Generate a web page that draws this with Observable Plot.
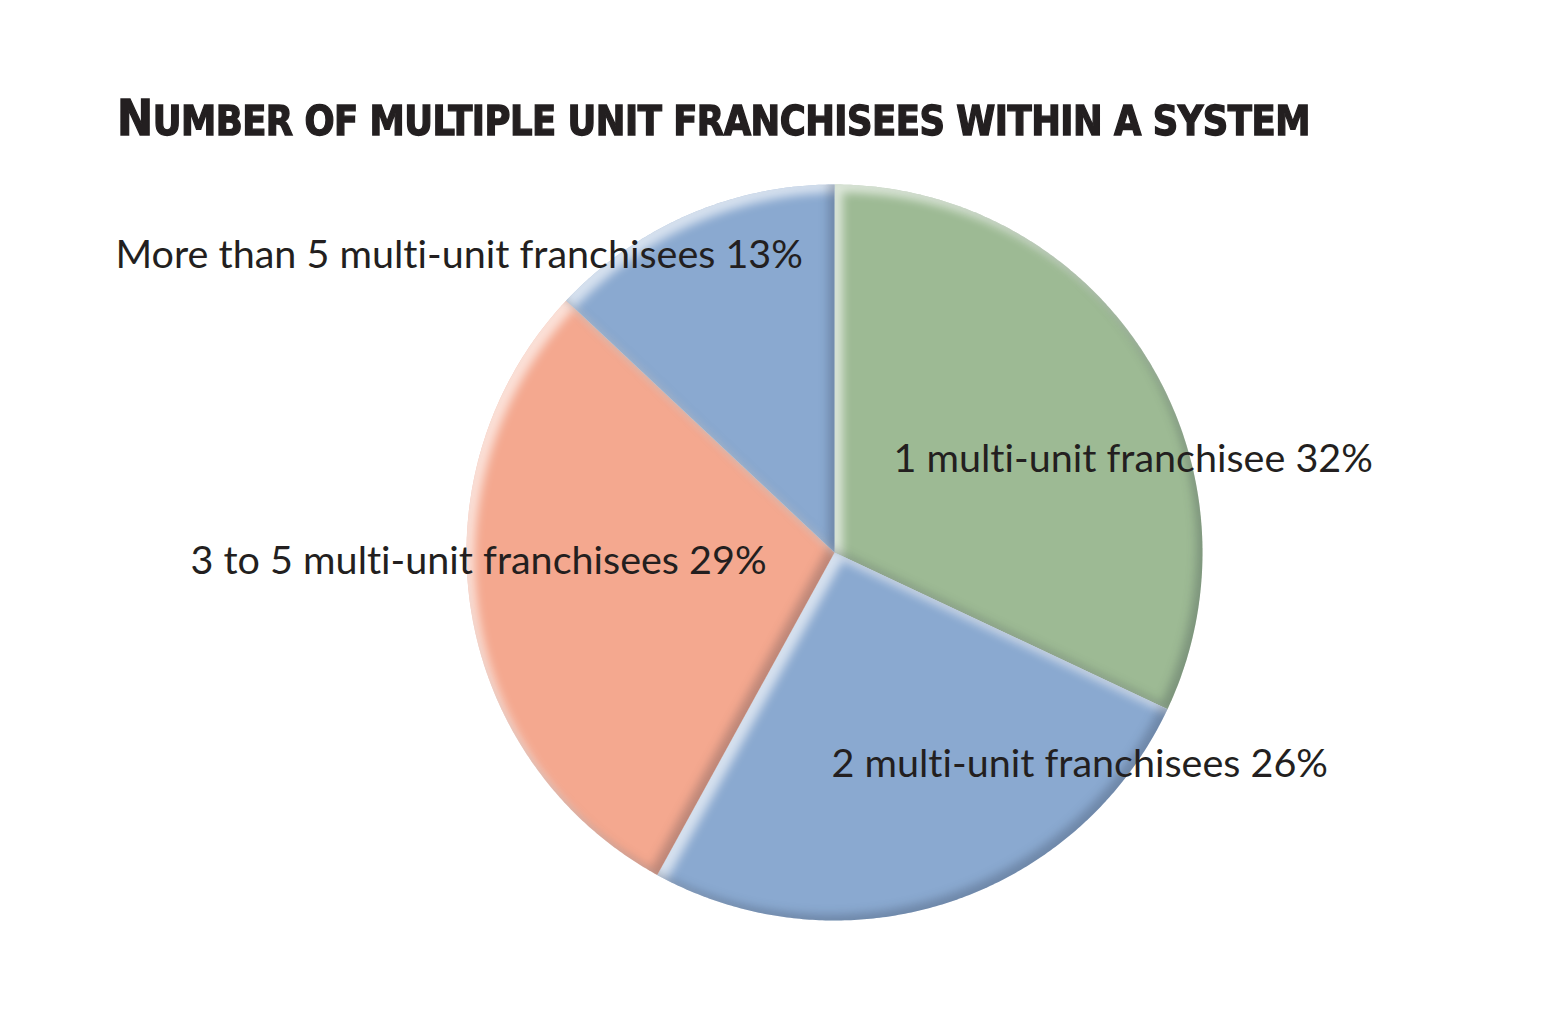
<!DOCTYPE html>
<html>
<head>
<meta charset="utf-8">
<script src="https://cdn.jsdelivr.net/npm/d3@7"></script>
<script src="https://cdn.jsdelivr.net/npm/@observablehq/plot@0.6"></script>
<style>
  html, body { margin: 0; padding: 0; background: #fff; }
  #wrap { width: 1542px; height: 1036px; position: relative; overflow: hidden; }
  #title { position: relative; height: 165px; }
  #ttext {
    position: absolute; left: 117px; top: 93px;
    font-family: "DejaVu Sans Condensed", "DejaVu Sans", sans-serif;
    font-weight: bold;
    font-size: 50px; line-height: 50px; color: #231f20;
    -webkit-text-stroke: 1.3px #231f20;
    white-space: nowrap; transform-origin: 0 0; display: inline-block;
    letter-spacing: -0.5px;
  }
  #ttext .sc { font-size: 41px; text-transform: uppercase; }
  svg { display: block; }
  svg text { font-variant-ligatures: none; font-feature-settings: "liga" 0; }
</style>
</head>
<body>
<div id="wrap">
  <div id="title"><span id="ttext">N<span class="sc">umber of multiple unit franchisees within a system</span></span></div>
  <div id="chart"></div>
</div>
<script>
// ---- data ----
const categories = [
  "1 multi-unit franchisee",
  "2 multi-unit franchisees",
  "3 to 5 multi-unit franchisees",
  "More than 5 multi-unit franchisees"
];
const shares = [32, 26, 29, 13];
const sliceColors = ["#9dba94", "#8aa9d0", "#f4a88f", "#8aa9d0"];

// ---- layout (pixels) ----
const W = 1542, H = 871;           // svg size
const CX = 834, CY = 387, R = 368; // pie centre & radius within svg
const FS = 39.5;                   // label font size
// label anchor: start x and baseline y relative to the svg
const labelPlace = [
  {dx: 893 - 834, base: 471 - 165},
  {dx: 831 - 834, base: 776 - 165},
  {dx: 190 - 834, base: 573 - 165},
  {dx: 115 - 834, base: 267 - 165}
];

// scales in units of radius, y up
const xDomain = [-CX / R, (W - CX) / R];
const yDomain = [-(H - CY) / R, CY / R];

// build slice polygons from shares
const total = d3.sum(shares);
const pts = [];
let acc = 0;
categories.forEach((c, i) => {
  const a0 = acc / total * 2 * Math.PI;
  acc += shares[i];
  const a1 = acc / total * 2 * Math.PI;
  pts.push({cat: c, x: 0, y: 0});
  const n = Math.max(8, Math.ceil((a1 - a0) / (Math.PI / 360)));
  for (let k = 0; k <= n; k++) {
    const a = a0 + (a1 - a0) * k / n;
    pts.push({cat: c, x: Math.sin(a), y: Math.cos(a)});
  }
});

const labels = categories.map((c, i) => ({
  text: `${c} ${shares[i]}%`,
  x: labelPlace[i].dx / R,
  y: (CY - (labelPlace[i].base - 0.32 * FS)) / R
}));

const chart = Plot.plot({
  width: W, height: H,
  margin: 0,
  x: {domain: xDomain, axis: null},
  y: {domain: yDomain, axis: null},
  color: {domain: categories, range: sliceColors},
  style: {background: "white"},
  marks: [
    Plot.line(pts, {x: "x", y: "y", z: "cat", fill: "cat", stroke: "none", curve: "linear-closed"}),
    Plot.text(labels, {x: "x", y: "y", text: "text", textAnchor: "start",
      fontSize: FS, fontFamily: "Lato, 'Open Sans', sans-serif", fill: "#231f20"})
  ]
});

// bevel filter per slice
const defs = `<defs>
<filter id="bevel" x="-5%" y="-5%" width="110%" height="110%" color-interpolation-filters="sRGB">
  <feGaussianBlur in="SourceAlpha" stdDeviation="5" result="b"/>
  <feOffset in="b" dx="8" dy="8" result="bDR"/>
  <feComposite in="SourceAlpha" in2="bDR" operator="out" result="hiMask"/>
  <feFlood flood-color="#ffffff" flood-opacity="0.65" result="wf"/>
  <feComposite in="wf" in2="hiMask" operator="in" result="hi"/>
  <feOffset in="b" dx="-6" dy="-6" result="bUL"/>
  <feComposite in="SourceAlpha" in2="bUL" operator="out" result="shMask"/>
  <feFlood flood-color="#1a2233" flood-opacity="0.25" result="bf"/>
  <feComposite in="bf" in2="shMask" operator="in" result="sh"/>
  <feMerge><feMergeNode in="SourceGraphic"/><feMergeNode in="hi"/><feMergeNode in="sh"/></feMerge>
</filter></defs>`;
chart.insertAdjacentHTML("afterbegin", defs);
chart.querySelectorAll('g[aria-label="line"] path').forEach(p => p.setAttribute("filter", "url(#bevel)"));

document.getElementById("chart").appendChild(chart);

// fit title width to reference span
const t = document.getElementById("ttext");
const wTarget = 1310 - 117;
const wNow = t.getBoundingClientRect().width;
t.style.transform = `scaleX(${wTarget / wNow})`;
</script>
</body>
</html>
